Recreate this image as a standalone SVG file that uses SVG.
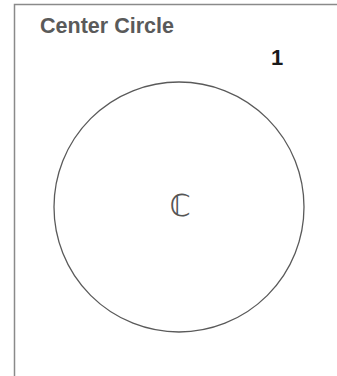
<svg xmlns="http://www.w3.org/2000/svg" width="337" height="376" viewBox="0 0 337 376">
<style>
.frame{fill:none;stroke:#8a8a8a;stroke-width:1.5}
.title{font-family:"Liberation Sans",Arial,sans-serif;font-weight:bold;font-size:22px;fill:#5a5a5a}
.num{font-family:"Liberation Sans",Arial,sans-serif;font-weight:bold;font-size:22px;fill:#1a1a1a}
.circ{fill:none;stroke:#5a5a5a;stroke-width:1.3}
.sym{font-family:"DejaVu Sans",sans-serif;font-size:30px;fill:#555;text-anchor:middle}
</style>
<rect width="337" height="376" fill="#fff"/>
<path class="frame" d="M14.5 376 V4.5 H337"/>
<g id="title">
<text class="title" x="40" y="33" textLength="134" lengthAdjust="spacingAndGlyphs">Center Circle</text>
</g>
<g id="number">
<text class="num" x="271" y="65">1</text>
</g>
<g id="center-circle">
<circle class="circ" cx="179" cy="207" r="125"/>
<text class="sym" x="180" y="216">ℂ</text>
</g>
</svg>
